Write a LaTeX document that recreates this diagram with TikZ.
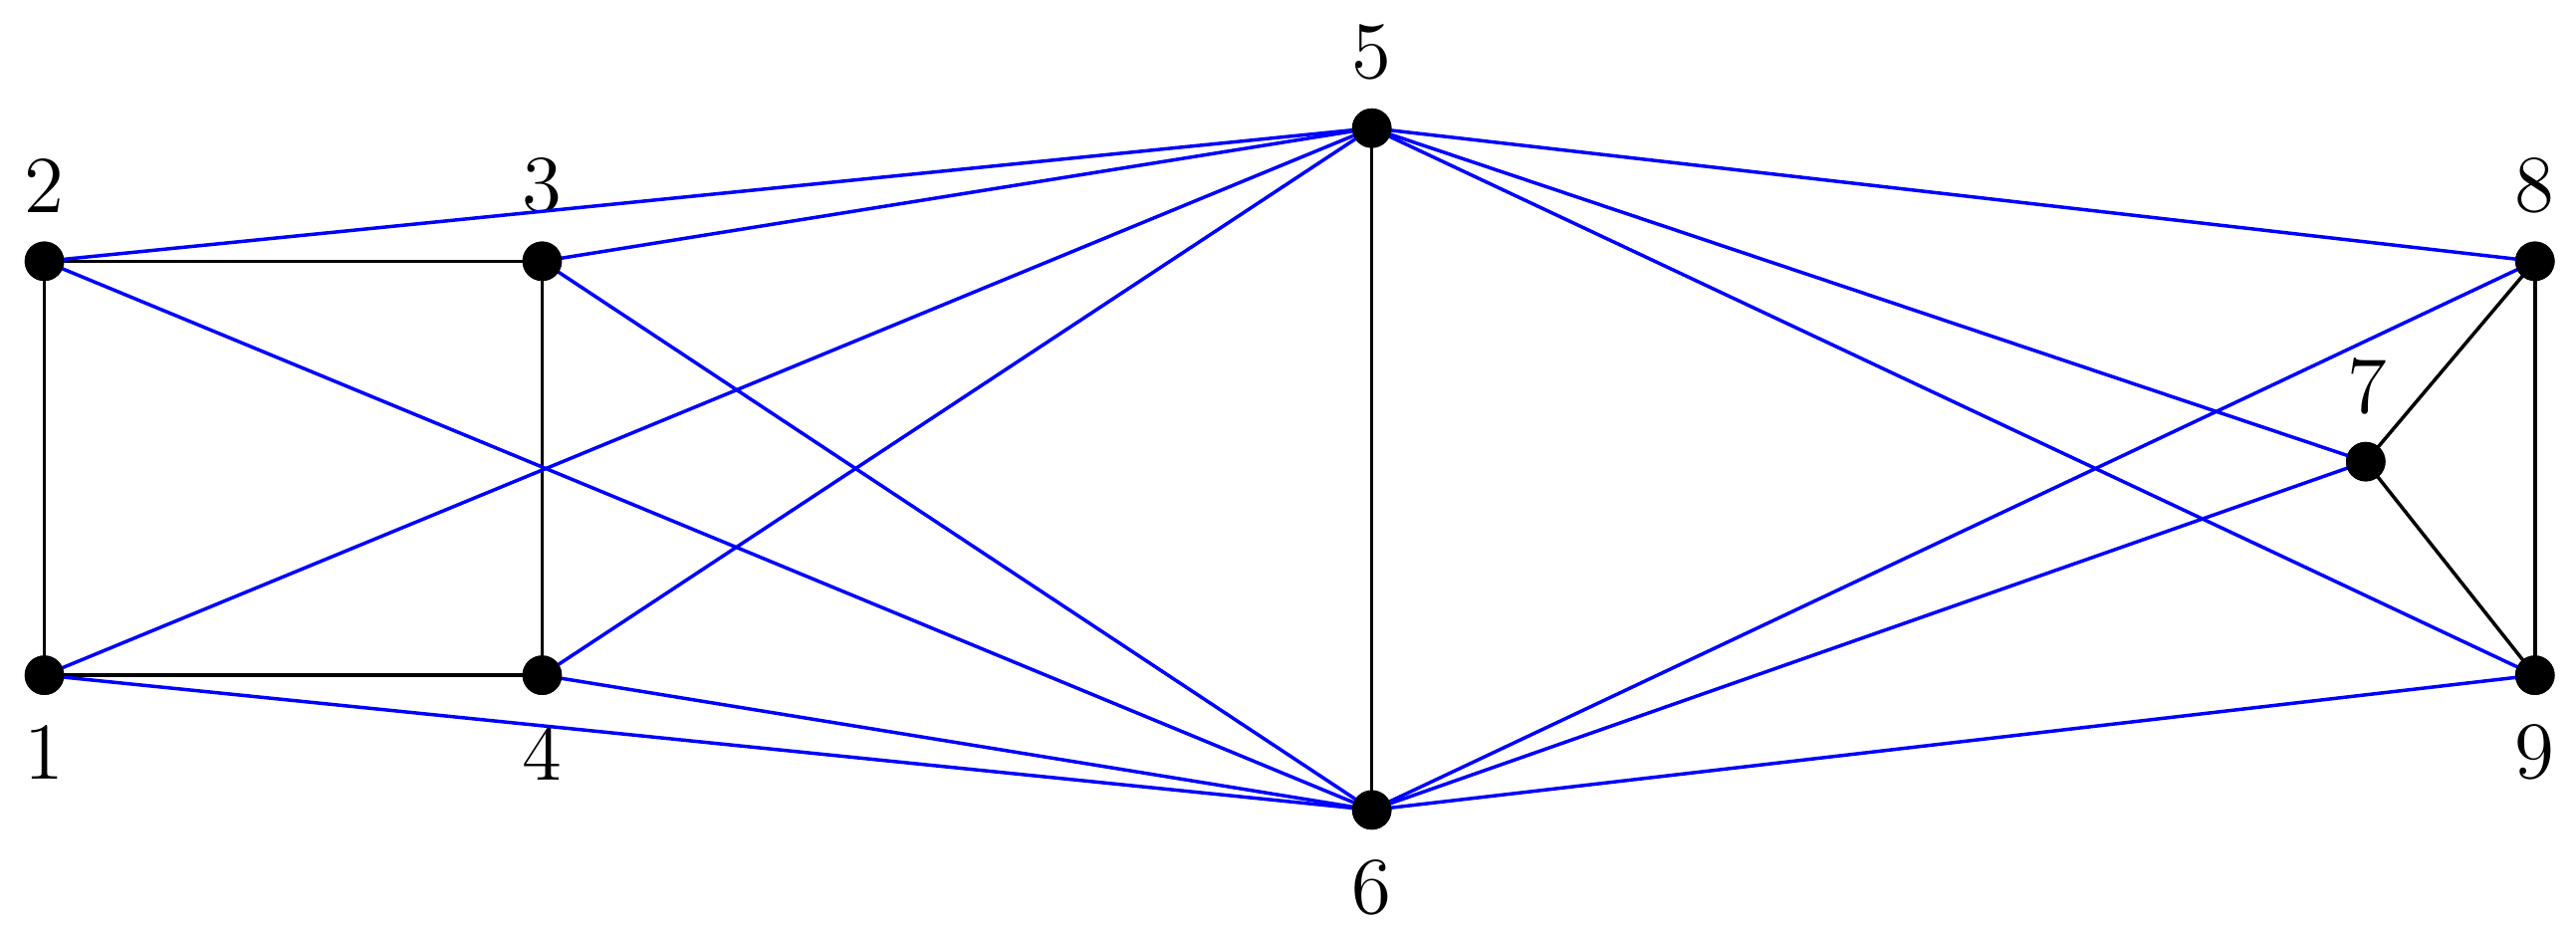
\documentclass[tikz,border=0pt]{standalone}
\begin{document}
\begin{tikzpicture}[x=0.1mm,y=-0.1mm,
  vtx/.style={circle,fill=black,inner sep=0pt,minimum size=2.4mm},
  lbl/.style={font=\fontsize{14}{16}\selectfont},
  blk/.style={line width=0.6pt,black},
  blu/.style={line width=0.6pt,blue}]
\useasboundingbox (0,0) rectangle (1568,570);
\node[vtx] (n1) at (27,411) {};
\node[vtx] (n2) at (27,159) {};
\node[vtx] (n3) at (330,159) {};
\node[vtx] (n4) at (330,411) {};
\node[vtx] (n5) at (835,78) {};
\node[vtx] (n6) at (835,493) {};
\node[vtx] (n7) at (1440,281) {};
\node[vtx] (n8) at (1543,159) {};
\node[vtx] (n9) at (1543,411) {};
\node[lbl] (l1) at (27,458) {1};
\node[lbl] (l2) at (27,113) {2};
\node[lbl] (l3) at (330,113) {3};
\node[lbl] (l4) at (330,458) {4};
\node[lbl] (l5) at (835,32) {5};
\node[lbl] (l6) at (835,540) {6};
\node[lbl] (l7) at (1441,235) {7};
\node[lbl] (l8) at (1543,113) {8};
\node[lbl] (l9) at (1543,458) {9};
\foreach \a/\b in {n1/n2,n2/n3,n3/n4,n1/n4,n5/n6,n7/n8,n7/n9,n8/n9}
  \draw[blk] (\a.center) -- (\b.center);
\foreach \b in {n1,n2,n3,n4,n7,n8,n9}{
  \draw[blu] (n5.center) -- (\b.center);
  \draw[blu] (n6.center) -- (\b.center);}
\foreach \n in {n1,n2,n3,n4,n5,n6,n7,n8,n9}
  \node[vtx] at (\n) {};
\end{tikzpicture}
\end{document}
